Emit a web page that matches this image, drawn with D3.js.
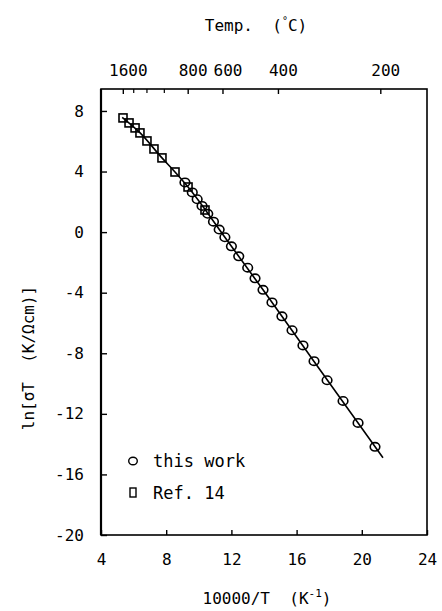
<!DOCTYPE html>
<html>
<head>
<meta charset="utf-8">
<script src="https://cdn.jsdelivr.net/npm/d3@7/dist/d3.min.js"></script>
<style>
  html, body { margin: 0; padding: 0; background: #fff; }
  svg text { font-family: "DejaVu Sans Mono", monospace; fill: #000; white-space: pre; }
</style>
</head>
<body>
<svg id="chart" width="442" height="611"></svg>
<script>
// ---- data ----
const xTicks = [4, 8, 12, 16, 20, 24];
const yTicks = [-20, -16, -12, -8, -4, 0, 4, 8];
const tempTicks = [1600, 800, 600, 400, 200];
const tempMinorTicks = [1400, 1200, 1000];

// "this work" (circles)
const thisWorkX = [9.15, 9.6, 9.9, 10.2, 10.55, 10.9, 11.25, 11.6, 12.0, 12.45, 13.0, 13.45, 13.94, 14.49, 15.10, 15.72, 16.39, 17.07, 17.87, 18.85, 19.77, 20.81];
const thisWorkY = [3.28, 2.62, 2.17, 1.73, 1.21, 0.69, 0.17, -0.34, -0.94, -1.60, -2.35, -3.05, -3.81, -4.64, -5.56, -6.48, -7.48, -8.52, -9.78, -11.15, -12.60, -14.18];

// Ref. 14 (squares)
const ref14X = [5.35, 5.72, 6.09, 6.39, 6.82, 7.25, 7.74, 8.54, 9.34, 10.38];
const ref14Y = [7.54, 7.21, 6.88, 6.55, 6.02, 5.49, 4.90, 3.97, 2.98, 1.46];

// fitted curve
const fitX = [5.3, 6.4, 7.74, 8.54, 9.34, 11.6, 13.94, 17.07, 21.3];
const fitY = [7.58, 6.55, 4.90, 3.97, 2.98, -0.34, -3.81, -8.54, -14.9];

// ---- layout ----
const svg = d3.select("#chart");
const L = 101, R = 427, T = 89, B = 535;
const x = d3.scaleLinear().domain([4, 24]).range([L, R]);
const y = d3.scaleLinear().domain([-20, 9.45]).range([B, T]);
const toInvT = c => 10000 / (c + 273.15);

// frame
svg.append("rect").attr("x", L).attr("y", T).attr("width", R - L).attr("height", B - T)
  .attr("fill", "none").attr("stroke", "#000").attr("stroke-width", 1.6);
svg.append("line").attr("x1", L).attr("x2", L).attr("y1", T).attr("y2", B)
  .attr("stroke", "#000").attr("stroke-width", 2.2);

// bottom axis
const gx = svg.append("g").attr("transform", `translate(0,${B})`)
  .call(d3.axisBottom(x).tickValues(xTicks).tickSize(-5).tickPadding(19).tickFormat(d3.format("d")));
gx.select(".domain").remove();
gx.selectAll("line").attr("stroke-width", 1.4);
gx.selectAll("text").attr("font-size", 16).attr("font-family", "DejaVu Sans Mono");

// left axis
const gy = svg.append("g").attr("transform", `translate(${L},0)`)
  .call(d3.axisLeft(y).tickValues(yTicks).tickSize(-6).tickPadding(17).tickFormat(d3.format("d")));
gy.select(".domain").remove();
gy.selectAll("line").attr("stroke-width", 1.4);
gy.selectAll("text").attr("font-size", 16).attr("font-family", "DejaVu Sans Mono")
  .text(d => d < 0 ? "-" + Math.abs(d) : d);

// top axis (temperature)
const gt = svg.append("g").attr("transform", `translate(0,${T})`)
  .call(d3.axisTop(x).tickValues(tempTicks.map(toInvT)).tickSize(-5).tickPadding(13)
    .tickFormat((d, i) => tempTicks[i]));
gt.select(".domain").remove();
gt.selectAll("line").attr("stroke-width", 1.4);
gt.selectAll("text").attr("font-size", 16).attr("font-family", "DejaVu Sans Mono").attr("dx", 5);
const gtm = svg.append("g").attr("transform", `translate(0,${T})`)
  .call(d3.axisTop(x).tickValues(tempMinorTicks.map(toInvT)).tickSize(-4).tickFormat(""));
gtm.select(".domain").remove();
gtm.selectAll("line").attr("stroke-width", 1.2);

// titles
svg.append("text").attr("x", 256).attr("y", 31).attr("text-anchor", "middle").attr("font-size", 16)
  .html('Temp.  (<tspan font-size="10" dy="-7">°</tspan><tspan dy="7">C)</tspan>');
svg.append("text").attr("x", 267).attr("y", 604).attr("text-anchor", "middle").attr("font-size", 16)
  .html('10000/T  (K<tspan font-size="11" dy="-7">-1</tspan><tspan dy="7">)</tspan>');
svg.append("text").attr("transform", "translate(34,358) rotate(-90)").attr("text-anchor", "middle")
  .attr("font-size", 16).text("ln[σT  (K/Ωcm)]");

// fit line
const pts = fitX.map((v, i) => [v, fitY[i]]);
svg.append("path").datum(pts)
  .attr("d", d3.line().x(d => x(d[0])).y(d => y(d[1])).curve(d3.curveMonotoneX))
  .attr("fill", "none").attr("stroke", "#000").attr("stroke-width", 1.6);

// squares
const sq = 8;
svg.append("g").selectAll("rect").data(ref14X.map((v, i) => [v, ref14Y[i]])).join("rect")
  .attr("x", d => x(d[0]) - sq / 2).attr("y", d => y(d[1]) - sq / 2)
  .attr("width", sq).attr("height", sq)
  .attr("fill", "none").attr("stroke", "#000").attr("stroke-width", 1.6);

// circles
svg.append("g").selectAll("ellipse").data(thisWorkX.map((v, i) => [v, thisWorkY[i]])).join("ellipse")
  .attr("cx", d => x(d[0])).attr("cy", d => y(d[1])).attr("rx", 4.8).attr("ry", 4.2)
  .attr("fill", "none").attr("stroke", "#000").attr("stroke-width", 1.6);

// legend
svg.append("ellipse").attr("cx", 133).attr("cy", 461).attr("rx", 4.3).attr("ry", 3.8)
  .attr("fill", "none").attr("stroke", "#000").attr("stroke-width", 1.4);
svg.append("text").attr("x", 153).attr("y", 467).attr("font-size", 17).text("this work");
svg.append("rect").attr("x", 130).attr("y", 488).attr("width", 6).attr("height", 9)
  .attr("fill", "none").attr("stroke", "#000").attr("stroke-width", 1.4);
svg.append("text").attr("x", 153).attr("y", 499).attr("font-size", 17).text("Ref. 14");
</script>
</body>
</html>
